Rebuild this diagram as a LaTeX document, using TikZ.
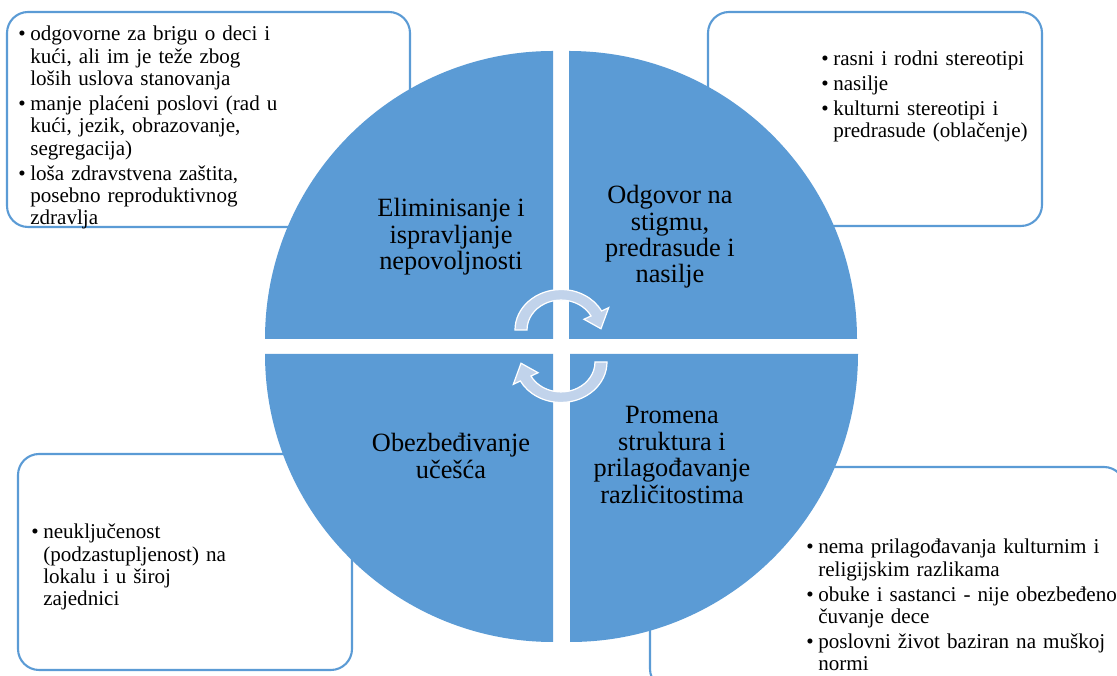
\documentclass[tikz,border=0pt]{standalone}
\usepackage{fontspec}
\setmainfont{Liberation Serif}
\usepackage{xcolor}
\usepackage{tikz}

\definecolor{quadblue}{HTML}{5B9BD5}
\definecolor{arrowblue}{HTML}{C1D3EB}
\newcommand{\bul}{\par\hangindent=6.8pt\hangafter=1\noindent\makebox[6.8pt][l]{\textbullet}}
\newcommand{\nextbul}{\par\vspace{1.4pt}\bul}
\newcommand{\nl}{\hfil\break}

\tikzset{
	notebox/.style={draw=quadblue, line width=1.2pt, fill=white, rounded corners=12pt},
	quadrant/.style={fill=quadblue},
	quadlabel/.style={align=center, inner sep=0pt, font=\fontsize{15}{15}\selectfont},
	notetext/.style={anchor=north west, inner sep=0pt, text width=7cm, align=left, font=\fontsize{12}{12.75}\selectfont},
	cyclearrow/.style={fill=arrowblue, draw=white, line width=0.7pt}
}

\begin{document}
\begin{tikzpicture}[x=0.02cm, y=0.02cm]
	\useasboundingbox (0,0) rectangle (1117,676);
	\clip (0,0) rectangle (1117,676);
	\draw[notebox] (7,664) rectangle (410,449);
	\draw[notebox] (708,664) rectangle (1042,450);
	\draw[notebox] (18,222) rectangle (352,6);
	\draw[notebox] (650,209) rectangle (1125,-14);
	\fill[quadrant] (553,337) -- (265,337) arc[start angle=180, end angle=90, radius=288] -- cycle;
	\fill[quadrant] (569,337) -- (857,337) arc[start angle=0, end angle=90, radius=288] -- cycle;
	\fill[quadrant] (553,322) -- (265,322) arc[start angle=180, end angle=270, radius=288] -- cycle;
	\fill[quadrant] (570,322) -- (858,322) arc[start angle=0, end angle=-90, radius=288] -- cycle;
	\node[quadlabel] (elim) at (451,439) {Eliminisanje i\\ispravljanje\\nepovoljnosti};
	\node[quadlabel] (odgovor) at (670,439) {Odgovor na\\stigmu,\\predrasude i\\nasilje};
	\node[quadlabel] (ucesce) at (451,220) {Obezbeđivanje\\učešća};
	\node[quadlabel] (promena) at (672,221) {Promena\\struktura i\\prilagođavanje\\različitostima};
	\begin{scope}[shift={(561,346)}, yscale=0.88]
		\path[cyclearrow] (180:46) arc[start angle=180, end angle=28, radius=46] -- (28:54) -- (2:40) -- (28:26) -- (28:34) arc[start angle=28, end angle=180, radius=34] -- cycle;
	\end{scope}
	\begin{scope}[shift={(561,314)}, rotate=180, yscale=0.88]
		\path[cyclearrow] (180:46) arc[start angle=180, end angle=28, radius=46] -- (28:54) -- (2:40) -- (28:26) -- (28:34) arc[start angle=28, end angle=180, radius=34] -- cycle;
	\end{scope}
	\node[notetext] (nepovoljno) at (18,658) {\bul odgovorne za brigu o deci i\nl kući, ali im je teže zbog\nl loših uslova stanovanja\nextbul manje plaćeni poslovi (rad u\nl kući, jezik, obrazovanje,\nl segregacija)\nextbul loša zdravstvena zaštita,\nl posebno reproduktivnog\nl zdravlja\par};
	\node[notetext] (stigma) at (821,633) {\bul rasni i rodni stereotipi\nextbul nasilje\nextbul kulturni stereotipi i\nl predrasude (oblačenje)\par};
	\node[notetext] (iskljucenost) at (31,160) {\bul neuključenost\nl (podzastupljenost) na\nl lokalu i u široj\nl zajednici\par};
	\node[notetext] (struktura) at (806,145) {\bul nema prilagođavanja kulturnim i\nl religijskim razlikama\nextbul obuke i sastanci - nije obezbeđeno\nl čuvanje dece\nextbul poslovni život baziran na muškoj\nl normi\par};
\end{tikzpicture}
\end{document}
